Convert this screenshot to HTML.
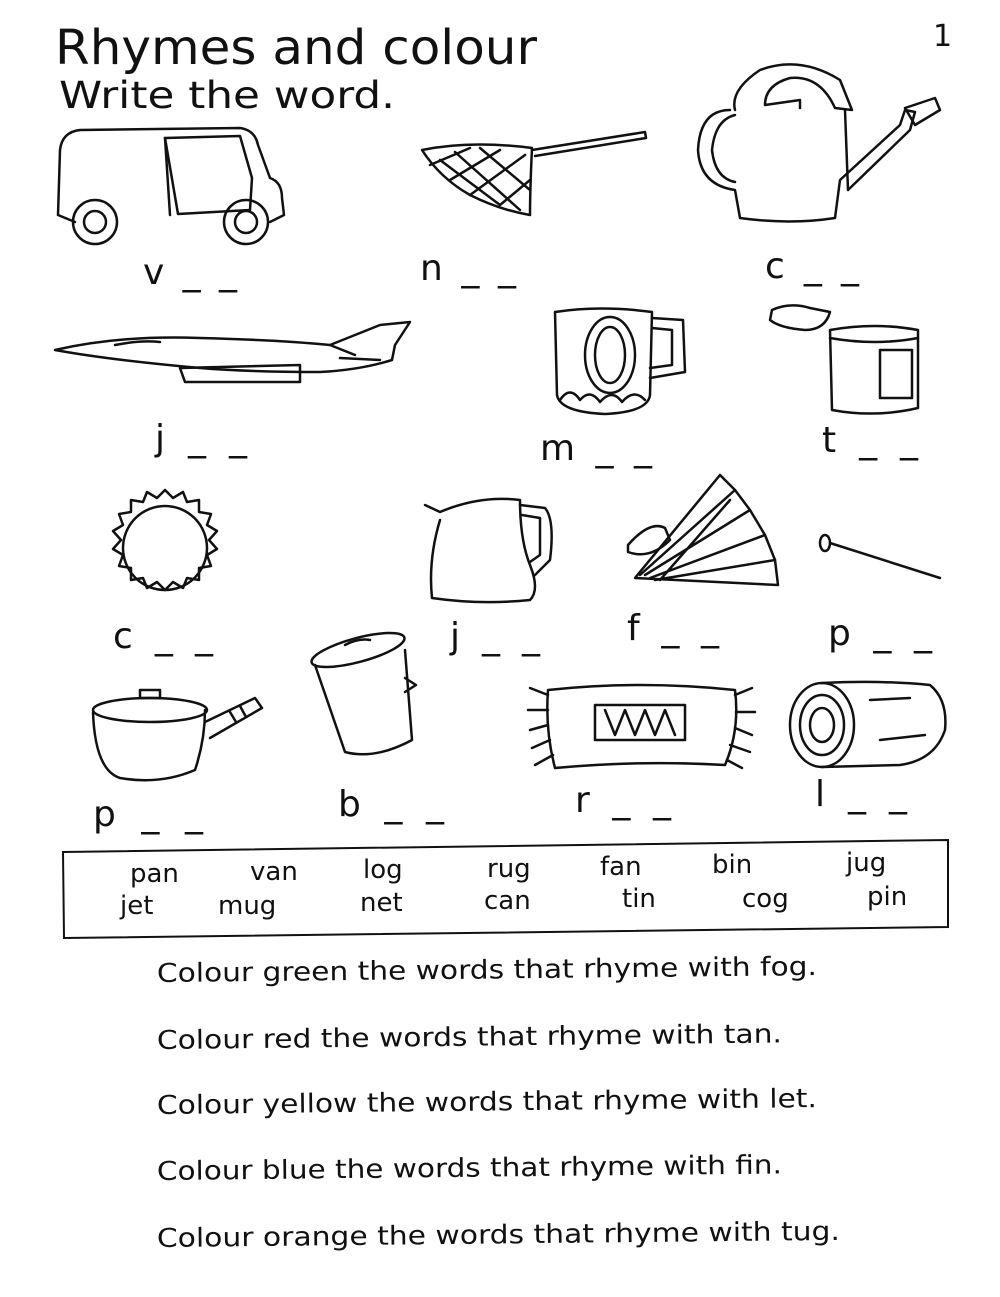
<!DOCTYPE html>
<html><head><meta charset="utf-8"><style>
html,body{margin:0;padding:0;background:#fff;}
svg{display:block}
text{font-family:"DejaVu Sans","Liberation Sans",sans-serif;fill:#111}
.d{fill:none;stroke:#111;stroke-width:2.5;stroke-linejoin:round;stroke-linecap:round}
.l{font-size:36px}
.w{font-size:26px}
.s{font-size:26px}
</style></head><body>
<svg width="1000" height="1297" viewBox="0 0 1000 1297" xmlns="http://www.w3.org/2000/svg">
<text x="55" y="64" font-size="48" textLength="482" lengthAdjust="spacingAndGlyphs">Rhymes and colour</text>
<text x="59" y="108" font-size="37" textLength="336" lengthAdjust="spacingAndGlyphs">Write the word.</text>
<text x="933" y="46" font-size="30">1</text>

<!-- van -->
<g class="d">
<path d="M58,215 L60,150 Q62,132 80,130 L240,128 Q255,130 258,145 L270,178 Q282,182 282,198 L284,215 L270,222 M58,215 L75,222"/>
<path d="M165,138 L240,136 L252,178 L250,210 L178,214 Z"/>
<path d="M165,138 L170,215"/>
<circle cx="95" cy="222" r="22"/><circle cx="95" cy="222" r="11"/>
<circle cx="246" cy="222" r="22"/><circle cx="246" cy="222" r="11"/>
</g>
<!-- net -->
<g class="d">
<path d="M422,150 Q470,140 532,148 Q530,190 530,215 Q500,210 470,195 Q440,178 422,150 Z"/>
<path d="M440,160 L500,205 M455,152 L520,210 M480,148 L530,190 M430,165 L470,148 M450,180 L500,150 M470,195 L525,155 M500,205 L530,180"/>
<path d="M532,150 L645,132 L646,138 L535,156"/>
</g>
<!-- watering can -->
<g class="d">
<path d="M730,110 Q700,110 698,150 Q700,185 735,190 L740,218 Q790,225 835,218 L840,180 L900,125 L905,110 L915,112 L910,130 L848,190 L845,110"/>
<path d="M735,110 Q730,90 760,70 Q800,55 840,80 L852,110 L835,108 Q820,75 790,78 Q765,85 765,105 L800,100 L800,108"/>
<path d="M905,108 L935,98 L940,110 L915,125 Z"/>
<path d="M735,115 Q715,120 712,150 Q715,178 735,182"/>
</g>
<!-- jet -->
<g class="d">
<path d="M55,350 Q120,335 200,338 Q280,340 330,345 L380,325 L410,322 L395,345 L392,360 Q360,370 320,372 Q250,372 200,368 Q110,360 55,350 Z"/>
<path d="M115,345 Q140,340 160,342"/>
<path d="M180,368 L300,365 L300,382 L185,382 Z"/>
<path d="M330,345 L355,355 M340,358 L380,360"/>
</g>
<!-- mug -->
<g class="d">
<path d="M555,312 Q600,305 652,312 L650,395 Q648,412 605,414 Q560,412 557,395 Z"/>
<path d="M652,318 L683,320 L685,372 L650,378 M652,328 L672,330 L672,365 L650,368"/>
<ellipse cx="610" cy="355" rx="15" ry="28"/><ellipse cx="610" cy="355" rx="25" ry="38"/>
<path d="M560,400 Q570,385 580,400 Q590,388 600,402 Q612,388 622,402 Q634,388 645,400"/>
</g>
<!-- tin -->
<g class="d">
<path d="M830,330 Q875,322 918,330 L918,408 Q875,418 832,410 Z"/>
<path d="M830,338 Q875,346 918,338"/>
<rect x="880" y="350" width="32" height="48"/>
<path d="M772,310 Q790,302 810,308 L830,312 Q825,330 805,330 Q780,328 770,320 Z"/>
</g>
<!-- sun -->
<g class="d">
<circle cx="165" cy="548" r="42"/>
<path d="M165,490 l8,8 l10,-6 l4,10 l12,-2 l0,12 l12,2 l-4,11 l10,6 l-8,9 l8,9 l-10,6 l4,11 l-12,2 l0,12 l-12,-2 l-4,10 l-10,-6 l-8,8 l-8,-8 l-10,6 l-4,-10 l-12,2 l0,-12 l-12,-2 l4,-11 l-10,-6 l8,-9 l-8,-9 l10,-6 l-4,-11 l12,-2 l0,-12 l12,2 l4,-10 l10,6 Z"/>
</g>
<!-- jug -->
<g class="d">
<path d="M425,505 L440,512 Q480,495 520,500 Q520,540 530,565 Q540,590 530,600 Q480,605 432,598 Q428,560 440,520"/>
<path d="M520,505 L545,508 Q555,520 550,560 L535,575 M522,515 L540,518 L540,555 L530,562"/>
</g>
<!-- fan -->
<g class="d">
<path d="M635,578 L720,475 L735,490 L750,510 L765,535 L775,560 L778,585 Z"/>
<path d="M640,575 L735,490 M645,575 L750,510 M650,578 L765,535 M655,580 L775,560 M660,580 L730,500"/>
<path d="M628,545 Q650,520 665,528 L670,540 Q650,560 628,552 Z"/>
</g>
<!-- pin -->
<g class="d">
<ellipse cx="825" cy="543" rx="5" ry="8"/>
<path d="M830,543 L940,578"/>
</g>
<!-- pan -->
<g class="d">
<path d="M93,712 Q95,770 120,778 Q160,785 195,770 Q205,740 205,710"/>
<ellipse cx="150" cy="710" rx="57" ry="12"/>
<rect x="140" y="690" width="20" height="8"/>
<path d="M205,722 L255,698 L262,708 L210,738"/>
<path d="M230,712 L236,722 M240,706 L246,717"/>
</g>
<!-- bin -->
<g class="d">
<ellipse cx="358" cy="650" rx="48" ry="12" transform="rotate(-15 358 650)"/>
<path d="M315,665 L345,752 Q375,760 412,740 L405,650"/>
<path d="M345,645 Q358,638 370,640"/>
<path d="M405,678 L416,685 L405,692"/>
</g>
<!-- rug -->
<g class="d">
<path d="M548,690 Q640,680 735,690 Q740,730 725,765 Q640,760 555,768 Q545,730 548,690 Z"/>
<rect x="595" y="705" width="90" height="35"/>
<path d="M605,710 l10,25 l10,-25 l10,25 l10,-25 l10,25 l10,-25 l10,25"/>
<path d="M548,695 L530,688 M548,710 L528,710 M548,725 L530,730 M550,740 L532,748 M553,755 L535,765 M735,695 L752,688 M736,712 L755,712 M735,728 L752,735 M730,745 L750,752 M727,760 L742,768"/>
</g>
<!-- log -->
<g class="d">
<ellipse cx="822" cy="725" rx="32" ry="42"/>
<ellipse cx="822" cy="725" rx="22" ry="30"/>
<ellipse cx="822" cy="725" rx="12" ry="17"/>
<path d="M822,683 Q880,680 930,685 Q948,700 945,730 Q935,760 900,765 L822,767"/>
<path d="M870,700 L910,698 M880,740 L925,735"/>
</g>

<g class="l">
<text x="143" y="284" textLength="94" lengthAdjust="spacing">v _ _</text>
<text x="420" y="280" textLength="96" lengthAdjust="spacing">n _ _</text>
<text x="765" y="278" textLength="94" lengthAdjust="spacing">c _ _</text>
<text x="155" y="450" textLength="92" lengthAdjust="spacing">j _ _</text>
<text x="540" y="460" textLength="112" lengthAdjust="spacing">m _ _</text>
<text x="822" y="452" textLength="96" lengthAdjust="spacing">t _ _</text>
<text x="113" y="648" textLength="100" lengthAdjust="spacing">c _ _</text>
<text x="450" y="648" textLength="90" lengthAdjust="spacing">j _ _</text>
<text x="627" y="640" textLength="92" lengthAdjust="spacing">f _ _</text>
<text x="828" y="645" textLength="104" lengthAdjust="spacing">p _ _</text>
<text x="93" y="826" textLength="110" lengthAdjust="spacing">p _ _</text>
<text x="338" y="816" textLength="106" lengthAdjust="spacing">b _ _</text>
<text x="575" y="812" textLength="96" lengthAdjust="spacing">r _ _</text>
<text x="815" y="806" textLength="92" lengthAdjust="spacing">l _ _</text>
</g>

<path d="M63,852 L948,840 L948,927 L64,938 Z" fill="none" stroke="#111" stroke-width="2"/>
<g class="w">
<text x="130" y="882">pan</text><text x="250" y="880">van</text><text x="363" y="878">log</text>
<text x="487" y="877">rug</text><text x="600" y="875">fan</text><text x="712" y="873">bin</text><text x="846" y="871">jug</text>
<text x="120" y="914">jet</text><text x="218" y="914">mug</text><text x="360" y="911">net</text>
<text x="484" y="909">can</text><text x="622" y="907">tin</text><text x="742" y="907">cog</text><text x="867" y="905">pin</text>
</g>
<g class="s">
<text x="157" y="982" transform="rotate(-0.6 157 982)" textLength="660" lengthAdjust="spacingAndGlyphs">Colour green the words that rhyme with fog.</text>
<text x="157" y="1049" transform="rotate(-0.6 157 1049)" textLength="625" lengthAdjust="spacingAndGlyphs">Colour red the words that rhyme with tan.</text>
<text x="157" y="1114" transform="rotate(-0.6 157 1114)" textLength="660" lengthAdjust="spacingAndGlyphs">Colour yellow the words that rhyme with let.</text>
<text x="157" y="1180" transform="rotate(-0.6 157 1180)" textLength="625" lengthAdjust="spacingAndGlyphs">Colour blue the words that rhyme with fin.</text>
<text x="157" y="1247" transform="rotate(-0.6 157 1247)" textLength="683" lengthAdjust="spacingAndGlyphs">Colour orange the words that rhyme with tug.</text>
</g>
</svg>
</body></html>
